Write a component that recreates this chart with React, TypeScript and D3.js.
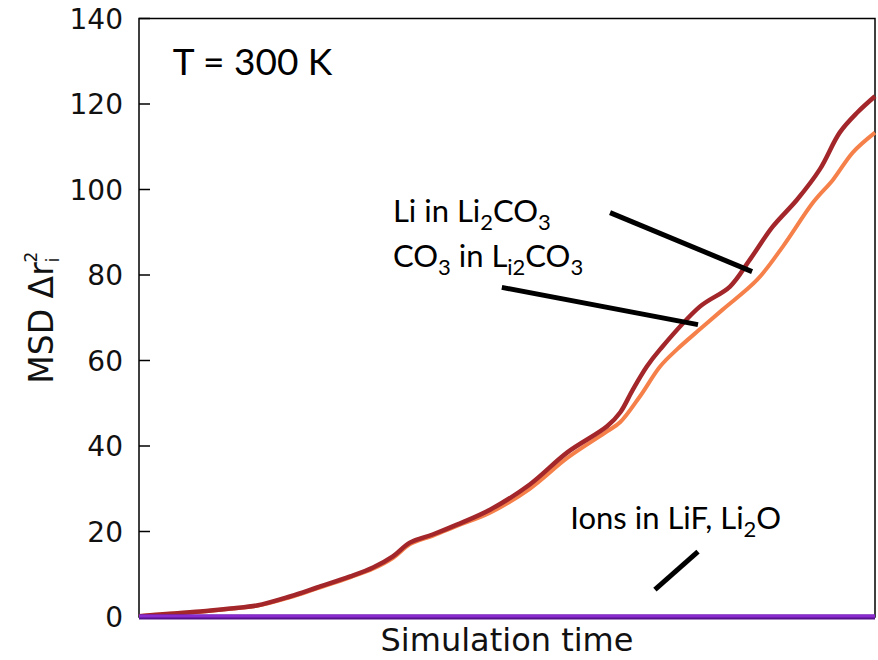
import React from "react";
import * as d3 from "d3";

// ---- data ----
const liTime = [0, 2.9, 8.3, 12.4, 16.0, 20.5, 24.2, 28.7, 31.8, 34.5, 36.8, 39.9, 43.2, 47.7, 53.1, 58.2, 63.6, 65.4, 67.1, 69.0, 70.8, 76.2, 80.3, 83.0, 86.1, 89.4, 92.5, 95.2, 97.6, 100];
const liMsd = [0.2, 0.6, 1.3, 2.0, 2.7, 4.8, 6.9, 9.5, 11.6, 14.2, 17.4, 19.3, 21.6, 25.1, 31.0, 38.5, 44.6, 47.9, 53.2, 58.6, 62.6, 72.6, 77.3, 83.6, 91.3, 97.6, 104.7, 113.3, 118.0, 121.8];

const co3Time = [0, 2.9, 8.3, 12.4, 16.0, 20.5, 24.2, 28.7, 31.8, 34.5, 36.8, 39.9, 43.2, 47.7, 53.1, 58.2, 63.6, 65.4, 68.1, 70.8, 73.1, 76.2, 79.3, 84.0, 87.5, 91.6, 94.3, 97.0, 100];
const co3Msd = [0.2, 0.6, 1.2, 1.9, 2.6, 4.6, 6.7, 9.3, 11.3, 13.8, 17.0, 19.0, 21.3, 24.4, 30.0, 37.2, 43.4, 45.6, 51.7, 58.6, 62.6, 67.3, 71.9, 78.9, 86.7, 97.0, 102.3, 108.7, 113.3];

const ionsTime = [0, 100];
const lifMsd = [0, 0];
const li2oMsd = [0, 0];

const yTicks = [0, 20, 40, 60, 80, 100, 120, 140];

// annotation pointer lines in data coordinates: [t1, v1, t2, v2]
const pointerLi = [64.0, 94.6, 83.3, 80.8];
const pointerCo3 = [49.3, 77.1, 75.95, 68.4];
const pointerIons = [70.1, 6.4, 75.95, 15.3];

const W = 878;
const H = 660;
const left = 139;
const right = 875;
const top = 18.5;
const bottom = 617;

const x = d3.scaleLinear().domain([0, 100]).range([left, right]);
const y = d3.scaleLinear().domain([0, 140]).range([bottom, top]);

const makeLine = (ts: number[], vs: number[]) =>
  d3
    .line<number>()
    .x((_, i) => x(ts[i]))
    .y((v) => y(v))
    .curve(d3.curveCatmullRom.alpha(0.5))(vs) as string;

const annoFont = "Lato, 'Open Sans', sans-serif";
const axisFont = "'DejaVu Sans', sans-serif";

function Pointer({ p }: { p: number[] }) {
  return (
    <line
      x1={x(p[0])}
      y1={y(p[1])}
      x2={x(p[2])}
      y2={y(p[3])}
      stroke="#000"
      strokeWidth={5}
    />
  );
}

export default function App() {
  return (
    <svg
      width={W}
      height={H}
      style={{ position: "absolute", left: 0, top: 0, background: "#fff" }}
    >
      <rect x={0} y={0} width={W} height={H} fill="#fff" />
      {/* frame */}
      <rect
        x={left}
        y={top}
        width={right - left}
        height={bottom - top}
        fill="none"
        stroke="#000"
        strokeWidth={1.5}
      />
      {/* y ticks */}
      {yTicks.map((t) => (
        <g key={t}>
          <line x1={left} x2={left + 11} y1={y(t)} y2={y(t)} stroke="#000" strokeWidth={1.5} />
          <text
            x={left - 16}
            y={y(t)}
            dy="0.36em"
            textAnchor="end"
            fontFamily={axisFont}
            fontSize={28}
            fill="#111"
          >
            {t}
          </text>
        </g>
      ))}
      {/* series */}
      <path d={makeLine(co3Time, co3Msd)} fill="none" stroke="#f5804a" strokeWidth={4} strokeLinejoin="round" />
      <path d={makeLine(liTime, liMsd)} fill="none" stroke="#a3262a" strokeWidth={4.5} strokeLinejoin="round" />
      <path d={makeLine(ionsTime, lifMsd)} fill="none" stroke="#55128a" strokeWidth={5} />
      <path d={makeLine(ionsTime, li2oMsd)} fill="none" stroke="#8a2bd0" strokeWidth={3} transform="translate(0,-1)" />

      {/* axis labels */}
      <text
        x={(left + right) / 2}
        y={651}
        textAnchor="middle"
        fontFamily={axisFont}
        fontSize={32}
        fill="#111"
      >
        Simulation time
      </text>
      <text
        transform={`translate(53, ${(top + bottom) / 2}) rotate(-90)`}
        textAnchor="middle"
        fontFamily={axisFont}
        fontSize={33}
        fill="#111"
      >
        MSD Δr
        <tspan fontSize={17} dy={6}>i</tspan>
        <tspan fontSize={17} dx={-5} dy={-22}>2</tspan>
      </text>

      {/* annotations */}
      <text x={x(4.6)} y={y(126.9)} fontFamily={annoFont} fontSize={37} fill="#000">
        T = 300 K
      </text>
      <text x={x(34.5)} y={y(92.3)} fontFamily={annoFont} fontSize={31} fill="#000">
        Li in Li<tspan fontSize={22} dy={8}>2</tspan>
        <tspan dy={-8}>CO</tspan>
        <tspan fontSize={22} dy={8}>3</tspan>
      </text>
      <text x={x(34.5)} y={y(81.8)} fontFamily={annoFont} fontSize={31} fill="#000">
        CO<tspan fontSize={22} dy={8}>3</tspan>
        <tspan dy={-8}> in L</tspan>
        <tspan fontSize={22} dy={8}>i2</tspan>
        <tspan dy={-8}>CO</tspan>
        <tspan fontSize={22} dy={8}>3</tspan>
      </text>
      <text x={x(58.6)} y={y(20.5)} fontFamily={annoFont} fontSize={31} fill="#000">
        Ions in LiF, Li<tspan fontSize={22} dy={8}>2</tspan>
        <tspan dy={-8}>O</tspan>
      </text>
      <Pointer p={pointerLi} />
      <Pointer p={pointerCo3} />
      <Pointer p={pointerIons} />
    </svg>
  );
}
